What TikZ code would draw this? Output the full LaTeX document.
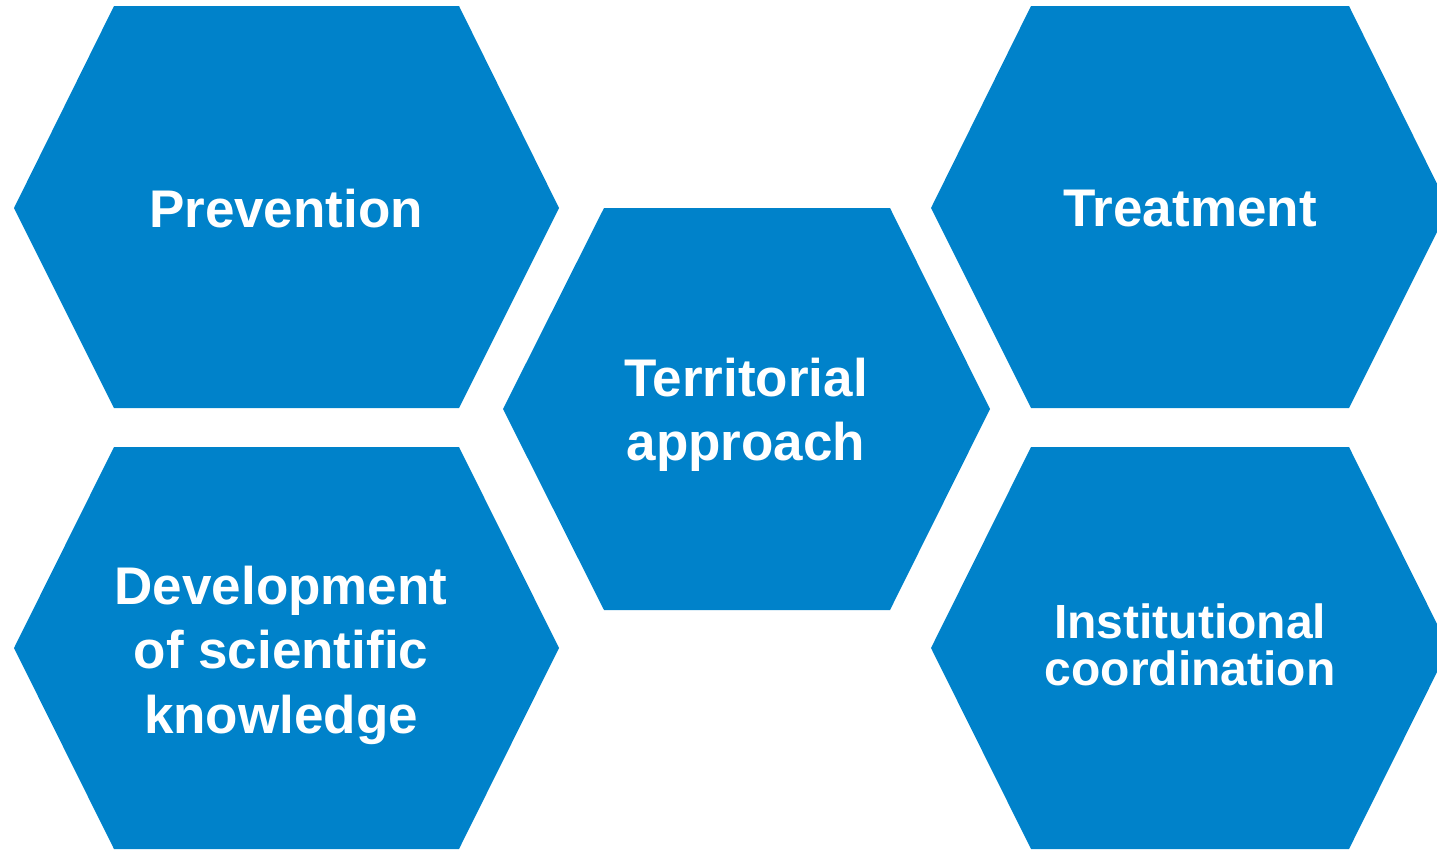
\documentclass[tikz,border=0pt]{standalone}
\usepackage{fontspec}
\setmainfont{Liberation Sans}
\definecolor{hexblue}{RGB}{0,130,202}
\begin{document}
\begin{tikzpicture}[x=1pt,y=-1pt,
  hexfill/.style={fill=hexblue},
  hexlabel/.style={text=white,font=\bfseries\fontsize{53}{64.5}\selectfont,align=center,inner sep=0pt},
  smalllabel/.style={hexlabel,font=\bfseries\fontsize{48}{47}\selectfont}]
\useasboundingbox (0,0) rectangle (1437,849);
% hexagons
\fill[hexfill] (114,6) -- (459,6) -- (559,208) -- (459,408) -- (114,408) -- (14,208) -- cycle;
\fill[hexfill] (114,447) -- (459,447) -- (559,648) -- (459,849) -- (114,849) -- (14,648) -- cycle;
\fill[hexfill] (604,208) -- (890,208) -- (990,409) -- (890,610) -- (604,610) -- (503,409) -- cycle;
\fill[hexfill] (1031,6) -- (1349,6) -- (1449,208) -- (1349,408) -- (1031,408) -- (931,208) -- cycle;
\fill[hexfill] (1031,447) -- (1349,447) -- (1449,648) -- (1349,849) -- (1031,849) -- (931,648) -- cycle;
% labels
\node[hexlabel] (prev) at (286,209) {Prevention};
\node[hexlabel] (terr) at (746,415) {Territorial\\approach};
\node[hexlabel] (treat) at (1190,209) {Treatment};
\node[hexlabel] (dev) at (281,655) {Development\\of scientific\\knowledge};
\node[smalllabel] (inst) at (1190,645) {Institutional\\coordination};
\end{tikzpicture}
\end{document}
